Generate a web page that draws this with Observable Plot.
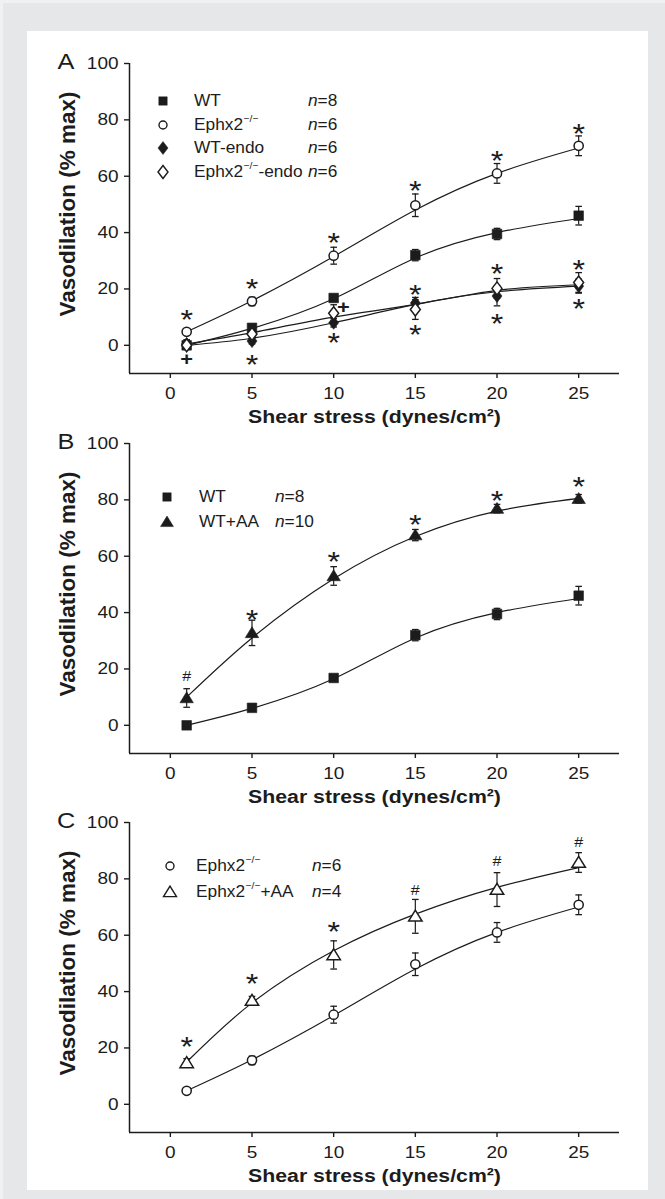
<!DOCTYPE html>
<html>
<head>
<meta charset="utf-8">
<script src="https://cdn.jsdelivr.net/npm/d3@7"></script>
<script src="https://cdn.jsdelivr.net/npm/@observablehq/plot@0.6"></script>
<style>
  html, body { margin: 0; padding: 0; }
  body { width: 665px; height: 1199px; background: #e6e7e8; position: relative; overflow: hidden;
         font-family: "Liberation Sans", Arial, Helvetica, sans-serif; color: #1c1c1c; }
  #bevel { position: absolute; left: 0; top: 0; width: 665px; height: 1199px; box-sizing: border-box;
           border-left: 3px solid #f0f1f2; border-top: 3px solid #f0f1f2; }
  #sheet { position: absolute; left: 27px; top: 31px; width: 621px; height: 1159px; background: #fff; }
  .plot { position: absolute; left: 0; }
  .lg-sym { position: absolute; width: 18px; height: 18px; }
  .lg-txt { position: absolute; height: 20px; line-height: 20px; font-size: 16px; white-space: nowrap;
            transform: scaleX(1.08); transform-origin: left center; }
  .lg-txt sup { font-size: 9.5px; position: relative; top: -1px; vertical-align: top; line-height: 10px; margin-left: 0.5px; }
</style>
</head>
<body>
<div id="bevel"></div>
<div id="sheet"></div>
<script>
// ---------------- data ----------------
const shear = [1, 5, 10, 15, 20, 25];
const xTicks = [0, 5, 10, 15, 20, 25];
const yTicks = [0, 20, 40, 60, 80, 100];
const xDomain = [-2.5, 27.5];
const yDomain = [-10, 100];
const xTitle = "Shear stress (dynes/cm²)";
const yTitle = "Vasodilation (% max)";

// means and error bars (% max)
const wtMean       = [0.0, 6.2, 16.8, 32.0, 39.5, 46.0];
const wtSem        = [0.8, 1.0, 1.2, 2.0, 2.0, 3.3];
const ephxMean     = [4.8, 15.6, 31.8, 49.7, 61.0, 70.8];
const ephxSem      = [1.0, 1.5, 3.0, 4.0, 3.5, 3.5];
const wtEndoMean   = [0.5, 1.5, 8.0, 15.0, 17.5, 21.0];
const wtEndoSem    = [1.5, 1.0, 1.5, 2.0, 3.5, 2.5];
const ephxEndoMean = [0.0, 4.0, 11.4, 12.7, 20.2, 22.3];
const ephxEndoSem  = [1.5, 1.5, 3.0, 3.5, 3.5, 3.5];
const wtAAMean     = [9.7, 32.8, 53.0, 67.5, 76.9, 80.4];
const wtAASem      = [3.3, 4.5, 3.3, 2.0, 1.5, 1.5];
const ephxAAMean   = [14.7, 36.8, 53.0, 66.7, 76.2, 85.8];
const ephxAASem    = [1.5, 1.5, 5.0, 6.0, 6.0, 3.5];

// fitted curves read at the same shear stresses
const wtFit       = [0.0, 6.0, 16.5, 31.0, 40.0, 45.0];
const ephxFit     = [4.8, 15.8, 31.5, 48.0, 61.0, 70.0];
const wtEndoFit   = [0.0, 2.5, 8.0, 14.5, 19.0, 21.0];
const ephxEndoFit = [0.5, 4.5, 10.0, 14.5, 19.5, 21.5];
const wtAAFit     = [10.0, 31.0, 52.0, 67.0, 76.0, 80.5];
const ephxAAFit   = [15.0, 36.0, 54.5, 67.5, 77.0, 84.0];

// significance marks
const sigA = [
  {x: 1, y: 11.4, t: "*"}, {x: 5, y: 22.3, t: "*"}, {x: 10, y: 38.8, t: "*"},
  {x: 15, y: 57.3, t: "*"}, {x: 20, y: 68.0, t: "*"}, {x: 25, y: 77.6, t: "*"},
  {x: 15, y: 20.4, t: "*"}, {x: 20, y: 27.6, t: "*"}, {x: 25, y: 29.2, t: "*"},
  {x: 5, y: -4.4, t: "*"}, {x: 10, y: 3.2, t: "*"}, {x: 15, y: 6.1, t: "*"},
  {x: 20, y: 10.0, t: "*"}, {x: 25, y: 15.3, t: "*"}
];
const plusA = [{x: 1, y: -5.0, t: "+"}, {x: 10.6, y: 13.5, t: "+"}];
const sigB = [
  {x: 5, y: 40.0, t: "*"}, {x: 10, y: 60.5, t: "*"}, {x: 15, y: 73.7, t: "*"},
  {x: 20, y: 82.0, t: "*"}, {x: 25, y: 87.0, t: "*"}
];
const hashB = [{x: 1, y: 17.4, t: "#"}];
const sigC = [{x: 1, y: 22.8, t: "*"}, {x: 5, y: 45.2, t: "*"}, {x: 10, y: 63.7, t: "*"}];
const hashC = [{x: 15, y: 75.9, t: "#"}, {x: 20, y: 86.0, t: "#"}, {x: 25, y: 93.0, t: "#"}];

// legends
const legendA = [
  {name: "WT", sup: "", tail: "", n: 8, shape: "square", open: false},
  {name: "Ephx2", sup: "−/−", tail: "", n: 6, shape: "circle", open: true},
  {name: "WT-endo", sup: "", tail: "", n: 6, shape: "diamond", open: false},
  {name: "Ephx2", sup: "−/−", tail: "-endo", n: 6, shape: "diamond", open: true}
];
const legendB = [
  {name: "WT", sup: "", tail: "", n: 8, shape: "square", open: false},
  {name: "WT+AA", sup: "", tail: "", n: 10, shape: "triangle", open: false}
];
const legendC = [
  {name: "Ephx2", sup: "−/−", tail: "", n: 6, shape: "circle", open: true},
  {name: "Ephx2", sup: "−/−", tail: "+AA", n: 4, shape: "triangle", open: true}
];

// ---------------- drawing ----------------
const ink = "#1c1c1c";
const FONT = '"Liberation Sans", Arial, Helvetica, sans-serif';
const rad = size => Math.sqrt(size / Math.PI);
const shapes = {
  square: {draw(c, s) { const r = rad(s); c.moveTo(-r, -r); c.lineTo(r, -r); c.lineTo(r, r); c.lineTo(-r, r); c.closePath(); }},
  circle: {draw(c, s) { const r = rad(s); c.moveTo(r, 0); c.arc(0, 0, r, 0, 2 * Math.PI); }},
  diamond: {draw(c, s) { const r = rad(s); const h = r * 1.3, w = r; c.moveTo(0, -h); c.lineTo(w, 0); c.lineTo(0, h); c.lineTo(-w, 0); c.closePath(); }},
  triangle: {draw(c, s) { const r = rad(s); c.moveTo(0, -1.1 * r); c.lineTo(1.2 * r, 0.85 * r); c.lineTo(-1.2 * r, 0.85 * r); c.closePath(); }},
  cap: {draw(c, s) { const r = rad(s); c.moveTo(-r, 0); c.lineTo(r, 0); }}
};
const symR = {square: 4.8, circle: 4.6, diamond: 5.0, triangle: 5.6};

// widen glyphs horizontally (the reference type is slightly stretched); rotated title left as is
function stretch(svg, k) {
  svg.querySelectorAll("text").forEach(t => {
    const tr = t.getAttribute("transform") || "";
    if (/rotate/.test(tr)) return;
    let x = parseFloat(t.getAttribute("x"));
    if (!isFinite(x)) x = 0;
    t.setAttribute("transform", `${tr} translate(${x},0) scale(${k},1) translate(${-x},0)`.trim());
  });
}

function makePanel(cfg) {
  const marks = [
    Plot.ruleX([xDomain[0]], {stroke: ink, strokeWidth: 1.5}),
    Plot.ruleY([yDomain[0]], {stroke: ink, strokeWidth: 1.5}),
    Plot.axisX({ticks: xTicks, tickSize: 5, tickPadding: 9, fontSize: 16.5, label: null, strokeWidth: 1.4}),
    Plot.axisY({ticks: yTicks, tickSize: 5, tickPadding: 6, fontSize: 16.5, label: null, strokeWidth: 1.4}),
    Plot.text([xTitle], {text: d => d, frameAnchor: "bottom", textAnchor: "middle", lineAnchor: "middle",
      dy: 44, fontSize: 18.5, fontWeight: "bold"}),
    Plot.text([yTitle], {text: d => d, frameAnchor: "left", textAnchor: "middle", lineAnchor: "middle",
      dx: -62, dy: -14.5, rotate: -90, fontSize: 22.5, fontWeight: "bold"}),
    Plot.text([cfg.letter], {text: d => d, frameAnchor: "top-left", textAnchor: "middle", lineAnchor: "middle",
      dx: -63.5, dy: -2, fontSize: 22})
  ];
  for (const s of cfg.series) {
    const fitRows = shear.map((x, i) => ({x, y: s.fit[i]}));
    marks.push(Plot.line(fitRows, {x: "x", y: "y", curve: "natural", stroke: ink, strokeWidth: 1.2}));
  }
  for (const s of cfg.series) {
    const rows = shear.map((x, i) => ({x, m: s.mean[i], s: s.sem[i]}));
    marks.push(Plot.ruleX(rows, {x: "x", y1: d => d.m - d.s, y2: d => d.m + d.s, stroke: ink, strokeWidth: 1.2}));
    marks.push(Plot.dot(rows, {x: "x", y: d => d.m + d.s, symbol: shapes.cap, r: 3.3, stroke: ink, strokeWidth: 1.3}));
    marks.push(Plot.dot(rows, {x: "x", y: d => d.m - d.s, symbol: shapes.cap, r: 3.3, stroke: ink, strokeWidth: 1.3}));
    marks.push(Plot.dot(rows, {x: "x", y: "m", symbol: shapes[s.shape], r: symR[s.shape],
      fill: s.open ? "white" : ink, stroke: ink, strokeWidth: s.open ? 1.5 : 0.6}));
  }
  if (cfg.stars) marks.push(Plot.text(cfg.stars, {x: "x", y: "y", text: "t", fontSize: 28, dy: 7}));
  if (cfg.plus) marks.push(Plot.text(cfg.plus, {x: "x", y: "y", text: "t", fontSize: 19, fontWeight: "bold"}));
  if (cfg.hash) marks.push(Plot.text(cfg.hash, {x: "x", y: "y", text: "t", fontSize: 14}));

  const svg = Plot.plot({
    width: 665, height: 400,
    marginLeft: 129, marginRight: 46, marginTop: 30, marginBottom: 60,
    x: {domain: xDomain},
    y: {domain: yDomain},
    style: {background: "transparent", color: ink, fontFamily: FONT, overflow: "visible"},
    marks
  });
  stretch(svg, 1.15);
  svg.classList.add("plot");
  svg.style.top = cfg.top + "px";
  document.body.appendChild(svg);

  // legend
  cfg.legend.forEach((it, i) => {
    const y = cfg.legendRows[i];
    const p = d3.path();
    const r = {square: 4.2, circle: 4.0, diamond: 5.0, triangle: 5.4}[it.shape];
    shapes[it.shape].draw(p, Math.PI * r * r);
    const sym = document.createElement("div");
    sym.className = "lg-sym";
    sym.style.left = (cfg.legendX[0] - 9) + "px";
    sym.style.top = (y - 9) + "px";
    sym.innerHTML = `<svg width="18" height="18" viewBox="-9 -9 18 18"><path d="${p}" fill="${it.open ? "white" : ink}" stroke="${ink}" stroke-width="${it.open ? 1.4 : 0.5}"/></svg>`;
    document.body.appendChild(sym);
    const lab = document.createElement("div");
    lab.className = "lg-txt";
    lab.style.left = cfg.legendX[1] + "px";
    lab.style.top = (y - 10) + "px";
    lab.innerHTML = it.name + (it.sup ? `<sup>${it.sup}</sup>` : "") + it.tail;
    document.body.appendChild(lab);
    const nn = document.createElement("div");
    nn.className = "lg-txt";
    nn.style.left = cfg.legendX[2] + "px";
    nn.style.top = (y - 10) + "px";
    nn.innerHTML = `<i>n</i>=${it.n}`;
    document.body.appendChild(nn);
  });
}

makePanel({
  top: 33, letter: "A",
  series: [
    {mean: wtMean, sem: wtSem, fit: wtFit, shape: "square", open: false},
    {mean: ephxMean, sem: ephxSem, fit: ephxFit, shape: "circle", open: true},
    {mean: wtEndoMean, sem: wtEndoSem, fit: wtEndoFit, shape: "diamond", open: false},
    {mean: ephxEndoMean, sem: ephxEndoSem, fit: ephxEndoFit, shape: "diamond", open: true}
  ],
  stars: sigA, plus: plusA,
  legend: legendA, legendRows: [101, 125, 148, 172], legendX: [163, 194, 308]
});
makePanel({
  top: 413, letter: "B",
  series: [
    {mean: wtMean, sem: wtSem, fit: wtFit, shape: "square", open: false},
    {mean: wtAAMean, sem: wtAASem, fit: wtAAFit, shape: "triangle", open: false}
  ],
  stars: sigB, hash: hashB,
  legend: legendB, legendRows: [497, 522], legendX: [167, 199, 275]
});
makePanel({
  top: 792, letter: "C",
  series: [
    {mean: ephxMean, sem: ephxSem, fit: ephxFit, shape: "circle", open: true},
    {mean: ephxAAMean, sem: ephxAASem, fit: ephxAAFit, shape: "triangle", open: true}
  ],
  stars: sigC, hash: hashC,
  legend: legendC, legendRows: [866, 892], legendX: [170, 196, 312]
});
</script>
</body>
</html>
